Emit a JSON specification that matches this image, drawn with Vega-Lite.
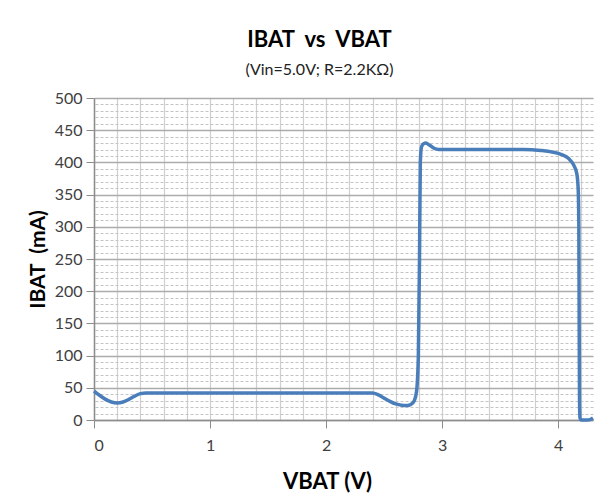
{
  "$schema": "https://vega.github.io/schema/vega-lite/v6.json",
  "width": 499,
  "height": 322,
  "autosize": {"type": "none"},
  "padding": {"left": 94, "top": 98, "right": 23, "bottom": 83},
  "background": "white",
  "config": {"view": {"stroke": null}, "font": "Lato"},
  "title": {
    "text": "IBAT\u00a0\u00a0vs\u00a0\u00a0VBAT",
    "subtitle": "(Vin=5.0V; R=2.2KΩ)",
    "anchor": "middle",
    "frame": "group",
    "dx": -24,
    "offset": 11,
    "fontSize": 22,
    "fontWeight": "bold",
    "color": "#000000",
    "subtitleFont": "Lato",
    "subtitleFontSize": 16,
    "subtitleColor": "#222222",
    "subtitlePadding": 10
  },
  "data": {
    "values": [
      {"v": 0.00, "i": 45}, {"v": 0.05, "i": 38}, {"v": 0.10, "i": 32}, {"v": 0.15, "i": 28},
      {"v": 0.20, "i": 26.5}, {"v": 0.25, "i": 28}, {"v": 0.30, "i": 32}, {"v": 0.35, "i": 37},
      {"v": 0.40, "i": 41}, {"v": 0.45, "i": 42}, {"v": 0.60, "i": 42}, {"v": 1.00, "i": 42},
      {"v": 1.50, "i": 42}, {"v": 2.00, "i": 42}, {"v": 2.40, "i": 42}, {"v": 2.45, "i": 39},
      {"v": 2.50, "i": 34}, {"v": 2.55, "i": 29}, {"v": 2.60, "i": 25}, {"v": 2.65, "i": 23},
      {"v": 2.70, "i": 22.5}, {"v": 2.73, "i": 24}, {"v": 2.76, "i": 30}, {"v": 2.78, "i": 45},
      {"v": 2.795, "i": 100}, {"v": 2.805, "i": 250}, {"v": 2.812, "i": 400}, {"v": 2.822, "i": 424},
      {"v": 2.84, "i": 429}, {"v": 2.86, "i": 430}, {"v": 2.89, "i": 427}, {"v": 2.93, "i": 422},
      {"v": 2.97, "i": 420}, {"v": 3.2, "i": 420}, {"v": 3.5, "i": 420}, {"v": 3.7, "i": 420},
      {"v": 3.85, "i": 418.5}, {"v": 3.95, "i": 416}, {"v": 4.03, "i": 412}, {"v": 4.09, "i": 406},
      {"v": 4.13, "i": 397}, {"v": 4.16, "i": 383}, {"v": 4.172, "i": 360}, {"v": 4.178, "i": 300},
      {"v": 4.181, "i": 150}, {"v": 4.184, "i": 30}, {"v": 4.188, "i": 3}, {"v": 4.198, "i": 0},
      {"v": 4.25, "i": 0}, {"v": 4.28, "i": 1}, {"v": 4.30, "i": 3}
    ]
  },
  "resolve": {"axis": {"x": "independent", "y": "independent"}},
  "layer": [
    {
      "mark": {"type": "point", "opacity": 0},
      "encoding": {
        "x": {
          "field": "v", "type": "quantitative",
          "scale": {"domain": [0, 4.3], "nice": false, "zero": false},
          "axis": {
            "orient": "top", "values": [0,0.2,0.4,0.6,0.8,1,1.2,1.4,1.6,1.8,2,2.2,2.4,2.6,2.8,3,3.2,3.4,3.6,3.8,4,4.2],
            "grid": true, "gridColor": "#cfcfcf", "gridWidth": 1.2,
            "labels": false, "ticks": false, "domain": false, "title": null
          }
        },
        "y": {
          "field": "i", "type": "quantitative",
          "scale": {"domain": [0, 500], "nice": false},
          "axis": {
            "orient": "right",
            "values": [10,20,30,40,60,70,80,90,110,120,130,140,160,170,180,190,210,220,230,240,260,270,280,290,310,320,330,340,360,370,380,390,410,420,430,440,460,470,480,490],
            "grid": true, "gridColor": "#c4c4c4", "gridDash": [3, 2], "gridWidth": 1,
            "labels": false, "ticks": false, "domain": false, "title": null
          }
        }
      }
    },
    {
      "mark": {"type": "line", "interpolate": "monotone", "color": "#4a7ebb", "strokeWidth": 3.5, "clip": false},
      "encoding": {
        "x": {
          "field": "v", "type": "quantitative",
          "scale": {"domain": [0, 4.3], "nice": false, "zero": false},
          "axis": {
            "orient": "bottom", "values": [0, 1, 2, 3, 4], "grid": false,
            "title": "VBAT (V)", "titleFontSize": 22, "titleFontWeight": "bold", "titleColor": "#000000",
            "titleX": 233, "titleY": 61, "titleBaseline": "middle", "titleAnchor": null,
            "labelFontSize": 16, "labelColor": "#404040", "labelPadding": 9,
            "tickSize": 8, "tickColor": "#8c8c8c", "domainColor": "#8c8c8c", "domainWidth": 1.5
          }
        },
        "y": {
          "field": "i", "type": "quantitative",
          "scale": {"domain": [0, 500], "nice": false},
          "axis": {
            "orient": "left", "values": [0,50,100,150,200,250,300,350,400,450,500],
            "grid": true, "gridColor": "#ababab", "gridWidth": 1.5,
            "title": "IBAT\u00a0\u00a0(mA)", "titleFontSize": 21, "titleFontWeight": "bold", "titleColor": "#000000",
            "titlePadding": 6,
            "labelFontSize": 16, "labelColor": "#404040", "labelPadding": 4,
            "tickSize": 8, "tickColor": "#8c8c8c", "domainColor": "#8c8c8c", "domainWidth": 1.5
          }
        }
      }
    }
  ]
}
